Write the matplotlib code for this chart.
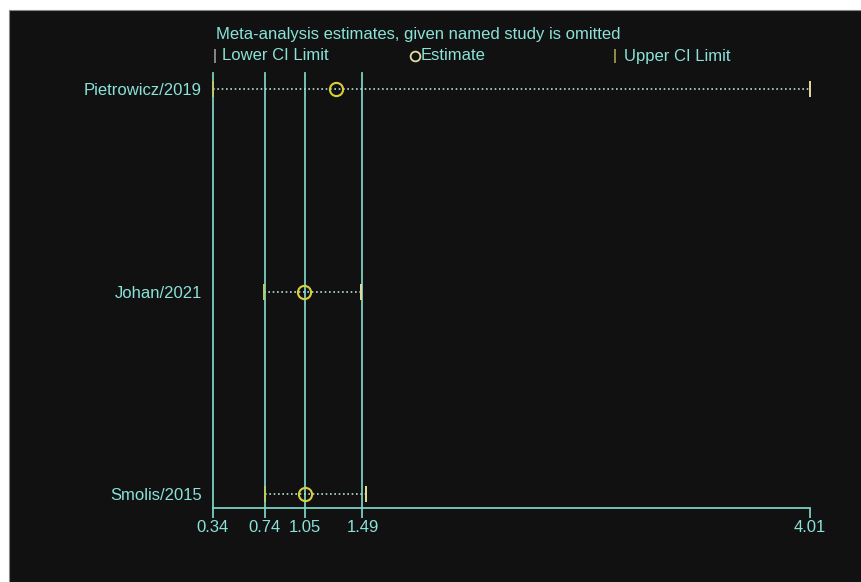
import numpy as np
import matplotlib
matplotlib.use('Agg')
import matplotlib.pyplot as plt
from matplotlib.patches import Rectangle

# influence analysis: pooled estimate with each study left out
studies = ['Smolis/2015', 'Johan/2021', 'Pietrowicz/2019']
est = [1.05, 1.04, 1.29]
lower = [0.74, 0.73, 0.34]
upper = [1.51, 1.48, 4.01]
xticks = [0.34, 0.74, 1.05, 1.49, 4.01]
vlines = [0.34, 0.74, 1.05, 1.49]

BG = '#111111'
TXT = '#8ae2d8'
LINE = '#7ccfc3'

plt.rcParams['font.family'] = ['Liberation Sans', 'DejaVu Sans']

fig = plt.figure(figsize=(8.62, 5.82), dpi=100)
fig.patch.set_facecolor('white')
fig.patches.append(Rectangle((9/862, -0.01), 1, 1.01 - 10/582, transform=fig.transFigure,
                             facecolor=BG, edgecolor='#888888', linewidth=0.8, zorder=-10))

ax = fig.add_axes([213/862, 1 - 508/582, 597/862, 435/582])
ax.set_facecolor('none')

# axis compressed past the upper pooled limit
def fwd(x):
    return np.interp(x, [0.34, 1.49, 4.01], [0, 149.5, 597])
def inv(y):
    return np.interp(y, [0, 149.5, 597], [0.34, 1.49, 4.01])
ax.set_xscale('function', functions=(fwd, inv))
ax.set_xlim(0.34, 4.01)
ax.set_ylim(0.93, 3.08)

for v in vlines:
    ax.axvline(v, color=LINE, lw=1.3, zorder=1, clip_on=False)

y = np.arange(1, len(studies) + 1)
for yi, lo, hi in zip(y, lower, upper):
    ax.plot([lo, hi], [yi, yi], color='#b5ddd6', lw=1.2, ls=(0, (1, 1.6)), zorder=2)
ax.plot(lower, y, ls='none', marker='|', ms=12, mew=1.4, color='#b8cc6a', zorder=3, clip_on=False)
ax.plot(upper, y, ls='none', marker='|', ms=12, mew=1.4, color='#e6dc9a', zorder=3, clip_on=False)
ax.plot(est, y, ls='none', marker='o', ms=9.5, mfc='none', mec='#d8cf3a', mew=1.5, zorder=4)

ax.set_yticks(y)
ax.set_yticklabels(studies)
ax.set_xticks(xticks)
ax.set_xticklabels(['%.2f' % t for t in xticks])
ax.xaxis.set_minor_locator(matplotlib.ticker.NullLocator())
ax.tick_params(axis='y', length=0, pad=8, labelsize=12, labelcolor=TXT)
ax.tick_params(axis='x', length=7.5, width=1.3, color=LINE, pad=1, labelsize=12, labelcolor=TXT)
for s in ['top', 'right', 'left']:
    ax.spines[s].set_visible(False)
ax.spines['bottom'].set_color(LINE)
ax.spines['bottom'].set_linewidth(1.3)

# key above the plot
fs = 12
fig.text(216/862, 1 - 35/582, 'Meta-analysis estimates, given named study is omitted',
         color=TXT, fontsize=fs, va='center')
fig.text(213/862, 1 - 56/582, '|', color='#c8c8c8', fontsize=fs - 1, va='center')
fig.text(222/862, 1 - 56/582, 'Lower CI Limit', color=TXT, fontsize=fs, va='center')
ax.plot([415/862], [1 - 56/582], transform=fig.transFigure, marker='o', ms=7,
        mfc='none', mec='#e2dca0', mew=1.3, clip_on=False)
fig.text(421/862, 1 - 56/582, 'Estimate', color=TXT, fontsize=fs, va='center')
fig.text(613/862, 1 - 56/582, '|', color='#e0d060', fontsize=fs - 1, va='center')
fig.text(624/862, 1 - 56/582, 'Upper CI Limit', color=TXT, fontsize=fs, va='center')

fig.savefig('out.png', dpi=100, facecolor=fig.get_facecolor())
